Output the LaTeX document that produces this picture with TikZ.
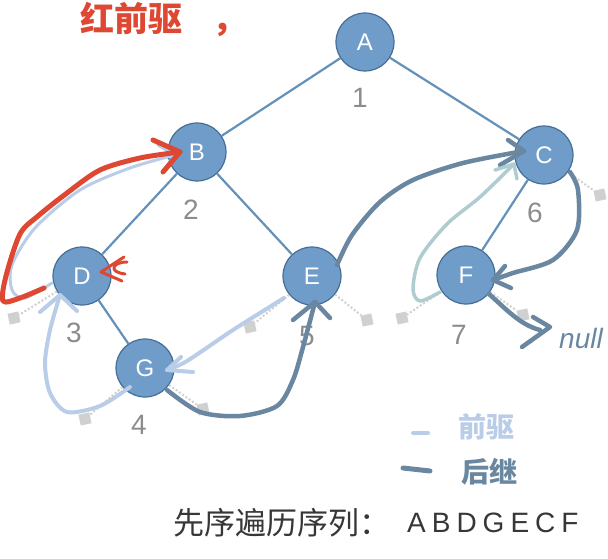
\documentclass[tikz,border=0pt]{standalone}
\usepackage{fontspec}
\setmainfont{Liberation Sans}
\newfontfamily\cjk{Noto Sans CJK SC}
\definecolor{nfill}{RGB}{112,156,201}
\definecolor{nborder}{RGB}{70,110,150}
\definecolor{edgec}{RGB}{100,145,185}
\definecolor{numc}{RGB}{140,140,140}
\definecolor{nullc}{RGB}{208,208,208}
\definecolor{redc}{RGB}{222,72,50}
\definecolor{lightb}{RGB}{185,205,232}
\definecolor{darkb}{RGB}{105,135,160}
\definecolor{tealc}{RGB}{175,205,208}
\definecolor{textc}{RGB}{55,55,55}
\tikzset{
  tnode/.style={circle, minimum size=58pt, inner sep=0pt, fill=nfill, draw=nborder, line width=1.2pt, text=white, font=\fontsize{24}{24}\selectfont},
  num/.style={text=numc, inner sep=0pt, font=\fontsize{28}{28}\selectfont},
  edge/.style={draw=edgec, line width=2.2pt},
  nullsq/.style={rectangle, fill=nullc, minimum size=11pt, inner sep=0pt, rotate=12},
  nullline/.style={draw=nullc, line width=2pt, dotted},
  hand/.style={line width=4pt, line cap=round, line join=round},
  handtext/.style={inner sep=0pt, font=\cjk\bfseries\fontsize{28}{28}\selectfont}
}
\begin{document}
\begin{tikzpicture}[x=1pt,y=-1pt]
\useasboundingbox (0,0) rectangle (608,559);
% null markers
\node[nullsq] (nD)  at (14,318) {};
\node[nullsq] (nGl) at (85,419) {};
\node[nullsq] (nGr) at (203,409) {};
\node[nullsq] (nEl) at (250,327) {};
\node[nullsq] (nEr) at (367,320) {};
\node[nullsq] (nFl) at (402,318) {};
\node[nullsq] (nFr) at (523,315) {};
\node[nullsq] (nCr) at (600,195) {};
% tree nodes
\node[tnode] (A) at (365,42) {A};
\node[tnode] (B) at (197,152) {B};
\node[tnode] (C) at (544,155) {C};
\node[tnode] (D) at (82,276) {D};
\node[tnode] (E) at (312,276) {E};
\node[tnode] (F) at (466,275) {F};
\node[tnode] (G) at (145,368) {G};
% edges
\draw[edge] (A) -- (B);
\draw[edge] (A) -- (C);
\draw[edge] (B) -- (D);
\draw[edge] (B) -- (E);
\draw[edge] (D) -- (G);
\draw[edge] (C) -- (F);
% null lines
\draw[nullline] (D) -- (nD);
\draw[nullline] (G) -- (nGl);
\draw[nullline] (G) -- (nGr);
\draw[nullline] (E) -- (nEl);
\draw[nullline] (E) -- (nEr);
\draw[nullline] (F) -- (nFl);
\draw[nullline] (F) -- (nFr);
\draw[nullline] (C) -- (nCr);
% order numbers
\node[num] (n1) at (360,98) {1};
\node[num] (n2) at (191,210) {2};
\node[num] (n3) at (74,333) {3};
\node[num] (n4) at (139,425) {4};
\node[num] (n5) at (307,336) {5};
\node[num] (n6) at (535,213) {6};
\node[num] (n7) at (459,335) {7};
% tips
\coordinate (tB) at (180,152);
\coordinate (tBl) at (175,155);
\coordinate (tD) at (60,295);
\coordinate (tG) at (167,370);
\coordinate (tE) at (315,302);
\coordinate (tC) at (524,151);
\coordinate (tCl) at (514,164);
\coordinate (tF) at (493,280);
\coordinate (tN) at (550,327);
% light blue: D -> B (under red)
\draw[hand, lightb, line width=3pt] plot[smooth] coordinates {(52,283) (25,298) (12,290) (12,265) (35,228) (80,190) (130,168) (tBl)};
\draw[hand, lightb, line width=3pt] (158,145) -- (tBl) -- (163,171);
% red: D -> B
\draw[hand, redc, line width=5pt] plot[smooth] coordinates {(44,288) (20,298) (3,301) (6,276) (20,234) (38,216) (67,193) (100,170) (140,158) (tB)};
\draw[hand, redc, line width=5pt] (153,140) -- (tB) -- (163,172);
% red small mark at D
\draw[hand, redc, line width=3pt] (124,257) -- (101,272) -- (122,281);
\draw[hand, redc, line width=3pt] (127,262) .. controls (112,262) and (108,272) .. (125,274);
% light blue: G -> D
\draw[hand, lightb] plot[smooth] coordinates {(130,387) (100,406) (67,412) (50,393) (45,363) (50,330) (tD)};
\draw[hand, lightb] (40,312) -- (tD) -- (77,311);
% light blue: E -> G
\draw[hand, lightb] plot[smooth] coordinates {(284,298) (233,330) (187,361) (tG)};
\draw[hand, lightb] (181,357) -- (tG) -- (193,372);
% dark: G -> E
\draw[hand, darkb, line width=4.5pt] plot[smooth] coordinates {(167,390) (200,412) (240,416) (277,406) (293,380) (303,347) (tE)};
\draw[hand, darkb, line width=4.5pt] (293,320) -- (tE) -- (330,318);
% dark: E -> C
\draw[hand, darkb, line width=4.5pt] plot[smooth] coordinates {(337,265) (352,235) (380,202) (413,180) (463,163) (tC)};
\draw[hand, darkb, line width=4.5pt] (508,140) -- (tC) -- (500,165);
% teal: F -> C
\draw[hand, tealc, line width=3.5pt] plot[smooth] coordinates {(440,292) (420,301) (413,289) (420,258) (447,224) (480,197) (tCl)};
\draw[hand, tealc, line width=3.5pt] (495,170) -- (tCl) -- (517,179);
% dark: C -> F
\draw[hand, darkb, line width=4.5pt] plot[smooth] coordinates {(570,172) (578,190) (577,230) (553,260) (513,273) (tF)};
\draw[hand, darkb, line width=4.5pt] (505,266) -- (tF) -- (511,288);
% dark: F -> null
\draw[hand, darkb, line width=4.5pt] (489,294) .. controls (505,308) and (520,325) .. (540,330);
\draw[hand, darkb, line width=4.5pt] (533,317) -- (tN) -- (522,347);
\node[inner sep=0pt, text=darkb, font=\itshape\fontsize{28}{28}\selectfont] (nulltext) at (581,338) {null};
% red note
\node[handtext, text=redc, anchor=west, font=\cjk\bfseries\fontsize{34}{34}\selectfont] (note) at (80,19) {红前驱\hspace{30pt}，};
% legend
\draw[hand, lightb] (413,433) -- (428,433);
\node[handtext, text=lightb] (lg1) at (486,427) {前驱};
\draw[hand, darkb, line width=5pt] (403,468) -- (430,471);
\node[handtext, text=darkb] (lg2) at (489,472) {后继};
% sequence
\node[anchor=west, inner sep=0pt, text=textc, font=\cjk\fontsize{31}{31}\selectfont] (seq) at (173,523) {先序遍历序列：};
\node[anchor=west, inner sep=0pt, text=textc, font=\fontsize{28}{28}\selectfont] (letters) at (407,523) {A\hspace{6pt}B\hspace{6pt}D\hspace{6pt}G\hspace{6pt}E\hspace{6pt}C\hspace{6pt}F};
\end{tikzpicture}
\end{document}
